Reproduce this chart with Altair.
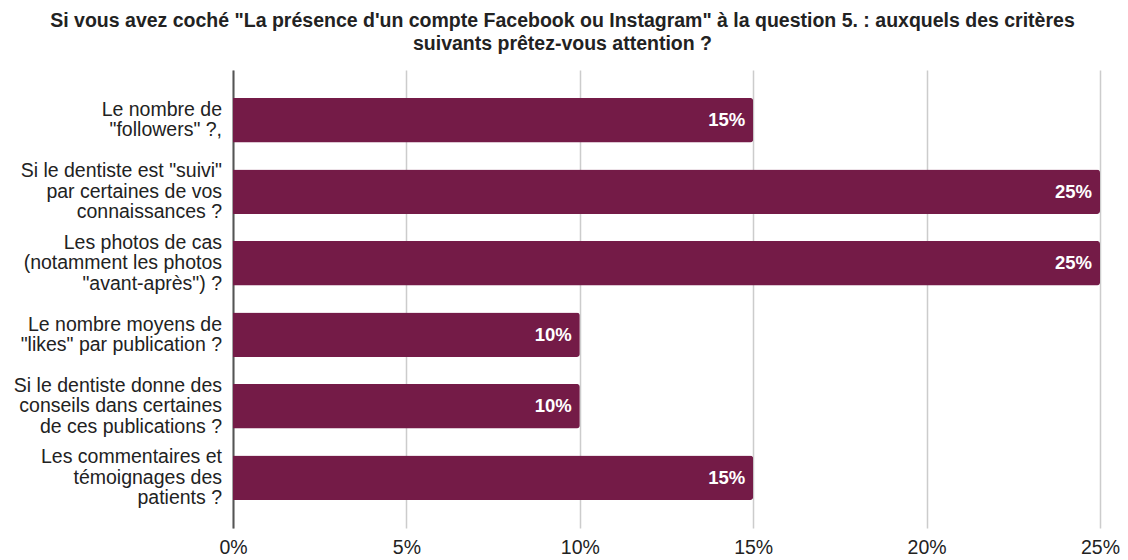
import altair as alt
import pandas as pd

categories = [
    "Le nombre de|\"followers\" ?,",
    "Si le dentiste est \"suivi\"|par certaines de vos|connaissances ?",
    "Les photos de cas|(notamment les photos|\"avant-après\") ?",
    "Le nombre moyens de|\"likes\" par publication ?",
    "Si le dentiste donne des|conseils dans certaines|de ces publications ?",
    "Les commentaires et|témoignages des|patients ?",
]
values = [15, 25, 25, 10, 10, 15]
labels = [f"{v}%" for v in values]

df = pd.DataFrame({"cat": categories, "val": values, "lab": labels})

HEIGHT = 458
P_IN, P_OUT = 0.375, 0.39
step = HEIGHT / (len(categories) - P_IN + 2 * P_OUT)
half_band = step * (1 - P_IN) / 2

LINE_H = 20.5
rows = []
for c in categories:
    parts = c.split("|")
    n = len(parts)
    for i, p in enumerate(parts):
        rows.append({"cat": c, "line": p,
                     "off": half_band + (i - (n - 1) / 2) * LINE_H})
lines_df = pd.DataFrame(rows)

FONT = "Liberation Sans"
COLOR = "#741b47"
FS = 19.5

yscale = alt.Scale(paddingInner=P_IN, paddingOuter=P_OUT)
y = alt.Y("cat:N", sort=categories, title=None, scale=yscale,
          axis=alt.Axis(labels=False, ticks=False, domainColor="#555555",
                        domainWidth=2))
x = alt.X("val:Q", title=None,
          scale=alt.Scale(domain=[0, 25], nice=False),
          axis=alt.Axis(values=[0, 5, 10, 15, 20, 25], labelExpr="datum.value + '%'",
                        labelFont=FONT, labelFontSize=FS, labelColor="#222222",
                        labelPadding=10, labelFlush=False, ticks=False, domain=False,
                        gridColor="#cccccc", gridWidth=1.5))

bars = alt.Chart(df).mark_bar(color=COLOR, cornerRadiusTopRight=3,
                              cornerRadiusBottomRight=3).encode(x=x, y=y)
text = alt.Chart(df).mark_text(align="right", dx=-8, color="white", font=FONT,
                               fontWeight="bold", fontSize=18.5).encode(
    x="val:Q", y=alt.Y("cat:N", sort=categories), text="lab:N")
ylabels = alt.Chart(lines_df).mark_text(align="right", baseline="middle", font=FONT,
                                        fontSize=FS, color="#222222").encode(
    x=alt.value(-11),
    y=alt.Y("cat:N", sort=categories),
    yOffset=alt.YOffset("off:Q", scale=None),
    text="line:N")

chart = (bars + text + ylabels).properties(
    width=867, height=HEIGHT,
    title=alt.TitleParams(
        text=["Si vous avez coché \"La présence d'un compte Facebook ou Instagram\" à la question 5. : auxquels des critères",
              "suivants prêtez-vous attention ?"],
        font=FONT, fontSize=19.5, fontWeight="bold", color="#222222",
        anchor="middle", dx=-104, offset=16, lineHeight=23),
    padding={"left": 225, "top": 62, "right": 20, "bottom": 30},
    autosize="none",
).configure_view(stroke=None)

chart.save("out.html", embed_options={"renderer": "svg", "actions": False})
